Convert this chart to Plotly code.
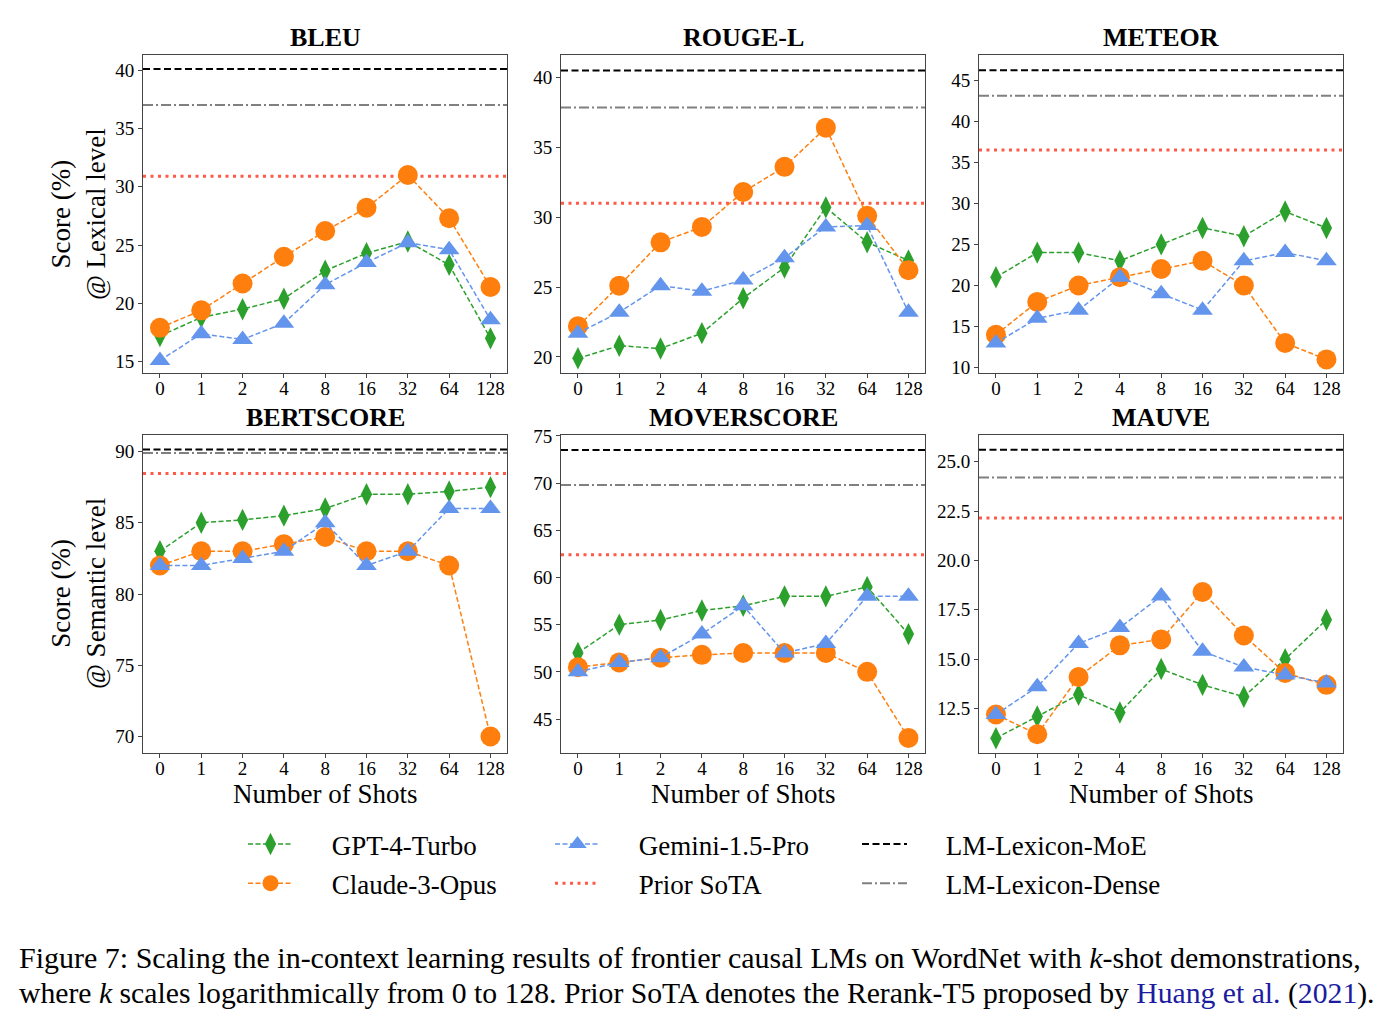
import plotly.graph_objects as go

W, H = 1396, 1024
FONT = "Liberation Serif, Times New Roman, serif"

# ---------------- data ----------------
shots = ["0", "1", "2", "4", "8", "16", "32", "64", "128"]
metrics = ["BLEU", "ROUGE-L", "METEOR", "BERTSCORE", "MOVERSCORE", "MAUVE"]

gpt4_turbo = [
    [17.2, 18.8, 19.5, 20.4, 22.8, 24.3, 25.3, 23.3, 17.0],   # BLEU
    [19.9, 20.8, 20.6, 21.7, 24.2, 26.4, 30.7, 28.2, 26.9],   # ROUGE-L
    [21, 24, 24, 23, 25, 27, 26, 29, 27],                     # METEOR
    [83.0, 85.0, 85.2, 85.5, 86.0, 87.0, 87.0, 87.2, 87.5],   # BERTSCORE
    [52, 55, 55.5, 56.5, 57, 58, 58, 59, 54],                 # MOVERSCORE
    [11.0, 12.1, 13.2, 12.3, 14.5, 13.7, 13.1, 15.0, 17.0],   # MAUVE
]
claude_3_opus = [
    [17.9, 19.4, 21.7, 24.0, 26.2, 28.2, 31.0, 27.3, 21.4],
    [22.2, 25.1, 28.2, 29.3, 31.8, 33.6, 36.4, 30.1, 26.2],
    [14, 18, 20, 21, 22, 23, 20, 13, 11],
    [82, 83, 83, 83.5, 84, 83, 83, 82, 70],
    [50.5, 51, 51.5, 51.8, 52, 52, 52, 50, 43],
    [12.2, 11.2, 14.1, 15.7, 16.0, 18.4, 16.2, 14.3, 13.7],
]
gemini_15_pro = [
    [15.1, 17.4, 16.9, 18.3, 21.6, 23.5, 25.2, 24.6, 18.6],
    [21.7, 23.2, 25.1, 24.7, 25.5, 27.1, 29.3, 29.4, 23.2],
    [13, 16, 17, 21, 19, 17, 23, 24, 23],
    [82, 82, 82.5, 83, 85, 82, 83, 86, 86],
    [50, 51, 51.5, 54, 57, 52, 53, 58, 58],
    [12.2, 13.6, 15.8, 16.6, 18.2, 15.4, 14.6, 14.2, 13.8],
]
lm_lexicon_moe = [40.1, 40.5, 46.2, 90.15, 73.5, 25.6]
lm_lexicon_dense = [37.0, 37.85, 43.1, 89.9, 69.8, 24.2]
prior_sota = [30.9, 31.0, 36.5, 88.45, 62.4, 22.15]

y_ranges = [[14.03, 41.29], [18.85, 41.6], [9.35, 48.05],
            [68.84, 91.16], [41.4, 75.1], [10.25, 26.35]]
y_ticks = [
    [15, 20, 25, 30, 35, 40],
    [20, 25, 30, 35, 40],
    [10, 15, 20, 25, 30, 35, 40, 45],
    [70, 75, 80, 85, 90],
    [45, 50, 55, 60, 65, 70, 75],
    [12.5, 15.0, 17.5, 20.0, 22.5, 25.0],
]
y_tickformats = ["d", "d", "d", "d", "d", ".1f"]
row_labels = ["Score (%)<br>@ Lexical level", "Score (%)<br>@ Semantic level"]

# ---------------- style ----------------
C_GPT, C_CLAUDE, C_GEMINI = "#2ca02c", "#ff7f0e", "#6495ED"
C_PRIOR, C_MOE, C_DENSE = "#ff5a48", "#000000", "#808080"
DATA_DASH = "5px,2.5px"
MOE_LINE = dict(color=C_MOE, width=2, dash="7px,3.5px")
DENSE_LINE = dict(color=C_DENSE, width=2, dash="10px,3px,2px,3px")
PRIOR_LINE = dict(color=C_PRIOR, width=3, dash="3px,4.5px")
PAD = "\u00a0" * 5  # gap between legend handle and label

col_px = [(143, 507), (561, 925), (979, 1343)]
row_px = [(55, 373), (435, 753)]


def px_x(x):
    return x / W


def px_y(y):
    return 1 - y / H


fig = go.Figure()
layout_axes = {}
annotations = []
shapes = []

series = [
    ("GPT-4-Turbo", gpt4_turbo, C_GPT, dict(symbol="diamond-tall", size=16), "legend"),
    ("Claude-3-Opus", claude_3_opus, C_CLAUDE, dict(symbol="circle", size=20), "legend"),
    ("Gemini-1.5-Pro", gemini_15_pro, C_GEMINI, dict(symbol="triangle-up", size=18), "legend2"),
]

for i, name in enumerate(metrics):
    r, c = divmod(i, 3)
    sfx = "" if i == 0 else str(i + 1)
    xa, ya = "x" + sfx, "y" + sfx
    x0, x1 = col_px[c]
    yt, yb = row_px[r]
    axis_common = dict(showline=True, mirror=True, linecolor="#444", linewidth=1,
                       ticks="outside", ticklen=4, tickcolor="#444", showgrid=False,
                       zeroline=False, automargin=False,
                       tickfont=dict(family=FONT, size=19, color="black"))
    layout_axes["xaxis" + sfx] = dict(domain=[px_x(x0), px_x(x1)], anchor=ya,
                                      type="category", categoryorder="array",
                                      categoryarray=shots, range=[-0.41, 8.4],
                                      ticklabelstandoff=-6,
                                      **axis_common)
    layout_axes["yaxis" + sfx] = dict(domain=[px_y(yb), px_y(yt)], anchor=xa,
                                      range=y_ranges[i], tickmode="array",
                                      tickvals=y_ticks[i], tickformat=y_tickformats[i],
                                      **axis_common)

    # reference horizontal lines
    for vals, ln in ((lm_lexicon_moe, MOE_LINE), (lm_lexicon_dense, DENSE_LINE),
                     (prior_sota, PRIOR_LINE)):
        shapes.append(dict(type="line", xref=xa + " domain", x0=0, x1=1,
                           yref=ya, y0=vals[i], y1=vals[i], line=ln, layer="below"))

    for sname, data, color, mk, lg in series:
        fig.add_trace(go.Scatter(
            x=shots, y=data[i], mode="lines+markers", name=PAD + sname,
            line=dict(color=color, width=1.5, dash=DATA_DASH),
            marker=dict(color=color, line=dict(width=0), **mk),
            xaxis=xa, yaxis=ya, showlegend=(i == 0), legend=lg,
            legendgroup=sname, cliponaxis=False))

    # subplot title
    annotations.append(dict(text="<b>%s</b>" % name, x=px_x((x0 + x1) / 2),
                            y=px_y(yt - 18), xref="paper", yref="paper",
                            xanchor="center", yanchor="middle", showarrow=False,
                            font=dict(family=FONT, size=26, color="black")))
    if r == 1:
        annotations.append(dict(text="Number of Shots", x=px_x((x0 + x1) / 2),
                                y=px_y(794), xref="paper", yref="paper",
                                xanchor="center", yanchor="middle", showarrow=False,
                                font=dict(family=FONT, size=27, color="black")))
    if c == 0:
        annotations.append(dict(text=row_labels[r], x=px_x(78),
                                y=px_y((yt + yb) / 2), xref="paper", yref="paper",
                                xanchor="center", yanchor="middle", showarrow=False,
                                textangle=-90,
                                font=dict(family=FONT, size=27, color="black")))

# legend-only entries for the reference lines
fig.add_trace(go.Scatter(x=[None], y=[None], mode="lines", name=PAD + "Prior SoTA",
                         line=PRIOR_LINE, legend="legend2", legendgroup="prior"))
fig.add_trace(go.Scatter(x=[None], y=[None], mode="lines", name=PAD + "LM-Lexicon-MoE",
                         line=MOE_LINE, legend="legend3", legendgroup="moe"))
fig.add_trace(go.Scatter(x=[None], y=[None], mode="lines", name=PAD + "LM-Lexicon-Dense",
                         line=DENSE_LINE, legend="legend3", legendgroup="dense"))

# caption
annotations.append(dict(
    text="Figure 7: Scaling the in-context learning results of frontier causal LMs on "
         "WordNet with <i>k</i>-shot demonstrations,",
    x=px_x(17), y=px_y(957), xref="paper", yref="paper", xanchor="left",
    yanchor="middle", showarrow=False, font=dict(family=FONT, size=30, color="black")))
annotations.append(dict(
    text="where <i>k</i> scales logarithmically from 0 to 128. Prior SoTA denotes the "
         "Rerank-T5 proposed by <span style='color:#1c1ca0'>Huang et al.</span> "
         "(<span style='color:#1c1ca0'>2021</span>).",
    x=px_x(17), y=px_y(993), xref="paper", yref="paper", xanchor="left",
    yanchor="middle", showarrow=False, font=dict(family=FONT, size=29.7, color="black")))

legend_common = dict(orientation="v", xanchor="left", yanchor="top",
                     font=dict(family=FONT, size=27, color="black"),
                     bgcolor="rgba(0,0,0,0)", tracegroupgap=1, itemwidth=45,
                     itemclick=False)

fig.update_layout(
    width=W, height=H, margin=dict(l=0, r=0, t=0, b=0, autoexpand=False),
    paper_bgcolor="white", plot_bgcolor="white",
    font=dict(family=FONT, color="black"),
    annotations=annotations, shapes=shapes,
    legend=dict(x=px_x(243), y=px_y(820), **legend_common),
    legend2=dict(x=px_x(550), y=px_y(820), **legend_common),
    legend3=dict(x=px_x(857), y=px_y(820), **legend_common),
    **layout_axes,
)

fig.write_html("out.html")
